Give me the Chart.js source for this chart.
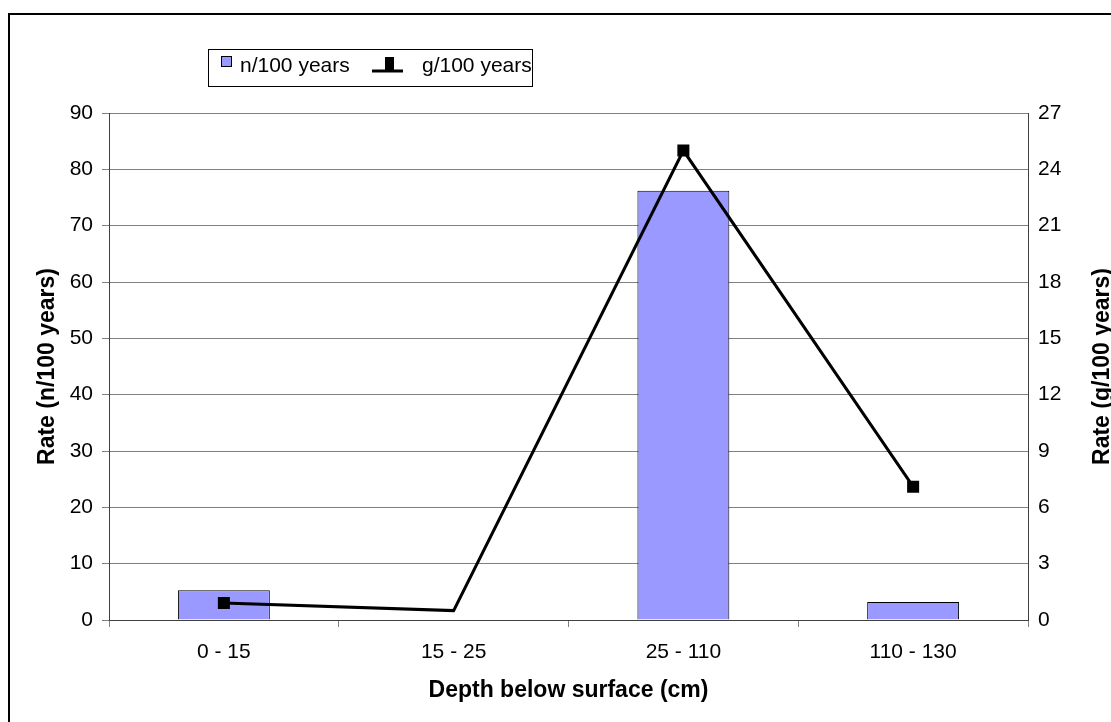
<!DOCTYPE html>
<html>
<head>
<meta charset="utf-8">
<script src="https://cdn.jsdelivr.net/npm/chart.js@4"></script>
<style>
  html, body { margin: 0; padding: 0; background: #fff; }
  #wrap { width: 1111px; height: 722px; position: relative; }
</style>
</head>
<body>
<div id="wrap"><canvas id="rateChart" width="1111" height="722"></canvas></div>
<script>
  // depth intervals and the two rates measured in each
  var depthBands = ["0 - 15", "15 - 25", "25 - 110", "110 - 130"];
  var countRate = [5.3, 0, 76.2, 3.2];
  var massRate = [0.9, 0.5, 25, 7.1];
  var countTicks = [0, 10, 20, 30, 40, 50, 60, 70, 80, 90];
  var massTicks = [0, 3, 6, 9, 12, 15, 18, 21, 24, 27];

  var FONT = "'Liberation Sans', Arial, sans-serif";
  var GRID = "#808080";
  var BAR_FILL = "#9999ff";

  function findDataset(chart, type) {
    return chart.data.datasets.filter(function (d) { return d.type === type; })[0];
  }

  // frame, boxed legend and the right-hand axis title (reads bottom to top)
  var decorations = {
    id: "decorations",
    afterDraw: function (chart) {
      var ctx = chart.ctx;
      var area = chart.chartArea;
      ctx.save();

      ctx.strokeStyle = "#000";
      ctx.lineWidth = 2;
      ctx.strokeRect(9, 14, 1200, 800);

      // legend box
      ctx.lineWidth = 1;
      ctx.strokeRect(208.5, 49.5, 324, 37);

      ctx.font = "21px " + FONT;
      ctx.textBaseline = "middle";
      ctx.textAlign = "left";

      ctx.fillStyle = BAR_FILL;
      ctx.fillRect(222, 57, 9, 9);
      ctx.strokeRect(221.5, 56.5, 10, 10);
      ctx.fillStyle = "#000";
      ctx.fillText(findDataset(chart, "bar").label, 240, 66);

      ctx.lineWidth = 3;
      ctx.beginPath();
      ctx.moveTo(372, 71);
      ctx.lineTo(403, 71);
      ctx.stroke();
      ctx.fillRect(385, 57, 9, 13);
      ctx.fillText(findDataset(chart, "line").label, 422, 66);

      // right axis title
      ctx.font = "bold 23px " + FONT;
      ctx.textAlign = "center";
      ctx.translate(1103, (area.top + area.bottom) / 2);
      ctx.rotate(-Math.PI / 2);
      ctx.fillText("Rate (g/100 years)", 0, 0);
      ctx.restore();
    }
  };

  var ctx = document.getElementById("rateChart").getContext("2d");
  new Chart(ctx, {
    data: {
      labels: depthBands,
      datasets: [
        {
          type: "line",
          label: "g/100 years",
          data: massRate,
          yAxisID: "y2",
          borderColor: "#000",
          borderWidth: 3,
          backgroundColor: "#000",
          pointStyle: "rect",
          pointRadius: [8.5, 0, 8.5, 8.5],
          pointBorderWidth: 0,
          tension: 0,
          order: 0
        },
        {
          type: "bar",
          label: "n/100 years",
          data: countRate,
          yAxisID: "y",
          backgroundColor: BAR_FILL,
          borderColor: "#000",
          borderWidth: 1,
          categoryPercentage: 1,
          barPercentage: 0.4,
          order: 1
        }
      ]
    },
    options: {
      responsive: false,
      animation: false,
      layout: { padding: { top: 113, left: 0, right: 0, bottom: 0 } },
      plugins: {
        legend: { display: false },
        tooltip: { enabled: false }
      },
      scales: {
        x: {
          offset: true,
          grid: {
            offset: true,
            drawOnChartArea: false,
            tickLength: 7,
            color: GRID
          },
          border: { color: "#404040", width: 1 },
          ticks: {
            color: "#000",
            font: { family: FONT, size: 21 },
            padding: 13,
            maxRotation: 0
          },
          title: {
            display: true,
            text: "Depth below surface (cm)",
            color: "#000",
            font: { family: FONT, size: 23, weight: "bold" },
            padding: { top: 0, bottom: 18 }
          },
          afterFit: function (scale) { scale.height = 102; }
        },
        y: {
          position: "left",
          min: 0,
          max: 90,
          afterBuildTicks: function (scale) {
            scale.ticks = countTicks.map(function (v) { return { value: v }; });
          },
          grid: { color: GRID, tickLength: 7 },
          border: { color: "#404040", width: 1 },
          ticks: {
            color: "#000",
            font: { family: FONT, size: 21 },
            padding: 9
          },
          title: {
            display: true,
            text: "Rate (n/100 years)",
            color: "#000",
            font: { family: FONT, size: 23, weight: "bold" },
            padding: { top: 34, bottom: 0 }
          },
          afterFit: function (scale) { scale.width = 109; }
        },
        y2: {
          position: "right",
          min: 0,
          max: 27,
          afterBuildTicks: function (scale) {
            scale.ticks = massTicks.map(function (v) { return { value: v }; });
          },
          grid: { drawOnChartArea: false, drawTicks: false },
          border: { color: "#404040", width: 1 },
          ticks: {
            color: "#000",
            font: { family: FONT, size: 21 },
            padding: 10
          },
          afterFit: function (scale) { scale.width = 83; }
        }
      }
    },
    plugins: [decorations]
  });
</script>
</body>
</html>
